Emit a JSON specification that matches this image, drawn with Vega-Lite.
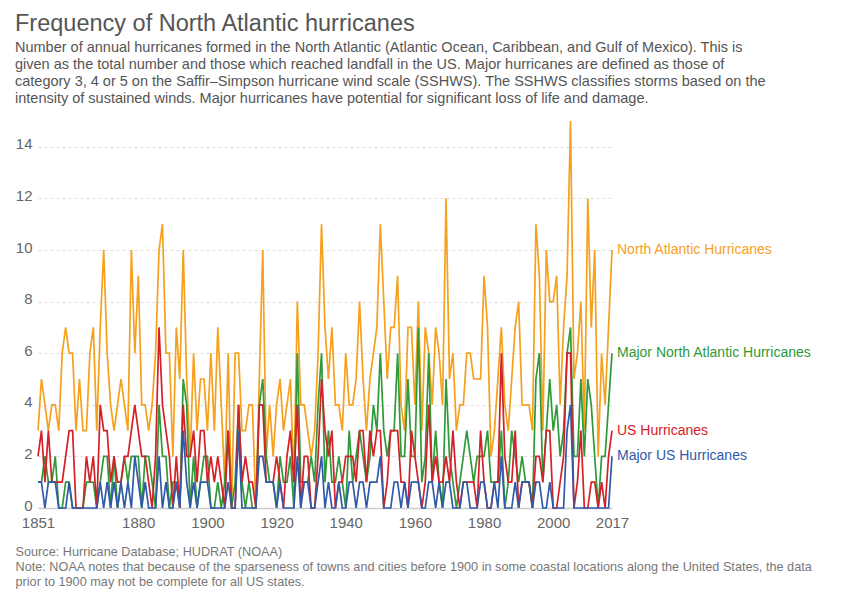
{
  "$schema": "https://vega.github.io/schema/vega-lite/v6.json",
  "width": 574,
  "height": 387,
  "autosize": "none",
  "padding": {"left": 38, "top": 121, "right": 238, "bottom": 92},
  "background": "white",
  "config": {"view": {"stroke": null}, "font": "Liberation Sans"},
  "title": {
    "text": "Frequency of North Atlantic hurricanes",
    "subtitle": [
      "Number of annual hurricanes formed in the North Atlantic (Atlantic Ocean, Caribbean, and Gulf of Mexico). This is",
      "given as the total number and those which reached landfall in the US. Major hurricanes are defined as those of",
      "category 3, 4 or 5 on the Saffir–Simpson hurricane wind scale (SSHWS). The SSHWS classifies storms based on the",
      "intensity of sustained winds. Major hurricanes have potential for significant loss of life and damage."
    ],
    "anchor": "start",
    "frame": "group",
    "dx": -23,
    "offset": 12,
    "font": "Liberation Sans",
    "fontSize": 23.5,
    "fontWeight": "normal",
    "color": "#555555",
    "subtitleFont": "Liberation Sans",
    "subtitleFontSize": 14.5,
    "subtitleColor": "#555555",
    "subtitleLineHeight": 16.9,
    "subtitlePadding": 6
  },
  "data": {"values": [
    {"year":1851,"North Atlantic Hurricanes":3,"Major North Atlantic Hurricanes":1,"US Hurricanes":2,"Major US Hurricanes":1},
    {"year":1852,"North Atlantic Hurricanes":5,"Major North Atlantic Hurricanes":1,"US Hurricanes":3,"Major US Hurricanes":1},
    {"year":1853,"North Atlantic Hurricanes":4,"Major North Atlantic Hurricanes":2,"US Hurricanes":1,"Major US Hurricanes":0},
    {"year":1854,"North Atlantic Hurricanes":3,"Major North Atlantic Hurricanes":1,"US Hurricanes":3,"Major US Hurricanes":1},
    {"year":1855,"North Atlantic Hurricanes":4,"Major North Atlantic Hurricanes":1,"US Hurricanes":1,"Major US Hurricanes":1},
    {"year":1856,"North Atlantic Hurricanes":4,"Major North Atlantic Hurricanes":2,"US Hurricanes":1,"Major US Hurricanes":1},
    {"year":1857,"North Atlantic Hurricanes":3,"Major North Atlantic Hurricanes":0,"US Hurricanes":1,"Major US Hurricanes":0},
    {"year":1858,"North Atlantic Hurricanes":6,"Major North Atlantic Hurricanes":0,"US Hurricanes":1,"Major US Hurricanes":0},
    {"year":1859,"North Atlantic Hurricanes":7,"Major North Atlantic Hurricanes":1,"US Hurricanes":2,"Major US Hurricanes":0},
    {"year":1860,"North Atlantic Hurricanes":6,"Major North Atlantic Hurricanes":1,"US Hurricanes":3,"Major US Hurricanes":1},
    {"year":1861,"North Atlantic Hurricanes":6,"Major North Atlantic Hurricanes":0,"US Hurricanes":3,"Major US Hurricanes":0},
    {"year":1862,"North Atlantic Hurricanes":3,"Major North Atlantic Hurricanes":0,"US Hurricanes":0,"Major US Hurricanes":0},
    {"year":1863,"North Atlantic Hurricanes":5,"Major North Atlantic Hurricanes":0,"US Hurricanes":0,"Major US Hurricanes":0},
    {"year":1864,"North Atlantic Hurricanes":3,"Major North Atlantic Hurricanes":0,"US Hurricanes":0,"Major US Hurricanes":0},
    {"year":1865,"North Atlantic Hurricanes":3,"Major North Atlantic Hurricanes":1,"US Hurricanes":2,"Major US Hurricanes":0},
    {"year":1866,"North Atlantic Hurricanes":6,"Major North Atlantic Hurricanes":1,"US Hurricanes":1,"Major US Hurricanes":0},
    {"year":1867,"North Atlantic Hurricanes":7,"Major North Atlantic Hurricanes":1,"US Hurricanes":2,"Major US Hurricanes":0},
    {"year":1868,"North Atlantic Hurricanes":3,"Major North Atlantic Hurricanes":0,"US Hurricanes":0,"Major US Hurricanes":0},
    {"year":1869,"North Atlantic Hurricanes":7,"Major North Atlantic Hurricanes":1,"US Hurricanes":4,"Major US Hurricanes":1},
    {"year":1870,"North Atlantic Hurricanes":10,"Major North Atlantic Hurricanes":2,"US Hurricanes":3,"Major US Hurricanes":0},
    {"year":1871,"North Atlantic Hurricanes":6,"Major North Atlantic Hurricanes":2,"US Hurricanes":3,"Major US Hurricanes":1},
    {"year":1872,"North Atlantic Hurricanes":4,"Major North Atlantic Hurricanes":0,"US Hurricanes":1,"Major US Hurricanes":0},
    {"year":1873,"North Atlantic Hurricanes":3,"Major North Atlantic Hurricanes":2,"US Hurricanes":2,"Major US Hurricanes":1},
    {"year":1874,"North Atlantic Hurricanes":4,"Major North Atlantic Hurricanes":0,"US Hurricanes":1,"Major US Hurricanes":0},
    {"year":1875,"North Atlantic Hurricanes":5,"Major North Atlantic Hurricanes":1,"US Hurricanes":1,"Major US Hurricanes":1},
    {"year":1876,"North Atlantic Hurricanes":4,"Major North Atlantic Hurricanes":2,"US Hurricanes":2,"Major US Hurricanes":0},
    {"year":1877,"North Atlantic Hurricanes":3,"Major North Atlantic Hurricanes":1,"US Hurricanes":2,"Major US Hurricanes":1},
    {"year":1878,"North Atlantic Hurricanes":10,"Major North Atlantic Hurricanes":2,"US Hurricanes":3,"Major US Hurricanes":0},
    {"year":1879,"North Atlantic Hurricanes":6,"Major North Atlantic Hurricanes":2,"US Hurricanes":4,"Major US Hurricanes":2},
    {"year":1880,"North Atlantic Hurricanes":9,"Major North Atlantic Hurricanes":2,"US Hurricanes":3,"Major US Hurricanes":1},
    {"year":1881,"North Atlantic Hurricanes":4,"Major North Atlantic Hurricanes":0,"US Hurricanes":2,"Major US Hurricanes":0},
    {"year":1882,"North Atlantic Hurricanes":4,"Major North Atlantic Hurricanes":2,"US Hurricanes":2,"Major US Hurricanes":1},
    {"year":1883,"North Atlantic Hurricanes":3,"Major North Atlantic Hurricanes":2,"US Hurricanes":1,"Major US Hurricanes":0},
    {"year":1884,"North Atlantic Hurricanes":4,"Major North Atlantic Hurricanes":1,"US Hurricanes":0,"Major US Hurricanes":0},
    {"year":1885,"North Atlantic Hurricanes":6,"Major North Atlantic Hurricanes":0,"US Hurricanes":2,"Major US Hurricanes":0},
    {"year":1886,"North Atlantic Hurricanes":10,"Major North Atlantic Hurricanes":4,"US Hurricanes":7,"Major US Hurricanes":2},
    {"year":1887,"North Atlantic Hurricanes":11,"Major North Atlantic Hurricanes":2,"US Hurricanes":4,"Major US Hurricanes":0},
    {"year":1888,"North Atlantic Hurricanes":6,"Major North Atlantic Hurricanes":2,"US Hurricanes":3,"Major US Hurricanes":1},
    {"year":1889,"North Atlantic Hurricanes":6,"Major North Atlantic Hurricanes":0,"US Hurricanes":2,"Major US Hurricanes":0},
    {"year":1890,"North Atlantic Hurricanes":2,"Major North Atlantic Hurricanes":1,"US Hurricanes":0,"Major US Hurricanes":0},
    {"year":1891,"North Atlantic Hurricanes":7,"Major North Atlantic Hurricanes":1,"US Hurricanes":2,"Major US Hurricanes":1},
    {"year":1892,"North Atlantic Hurricanes":5,"Major North Atlantic Hurricanes":0,"US Hurricanes":0,"Major US Hurricanes":0},
    {"year":1893,"North Atlantic Hurricanes":10,"Major North Atlantic Hurricanes":5,"US Hurricanes":4,"Major US Hurricanes":3},
    {"year":1894,"North Atlantic Hurricanes":5,"Major North Atlantic Hurricanes":4,"US Hurricanes":2,"Major US Hurricanes":1},
    {"year":1895,"North Atlantic Hurricanes":2,"Major North Atlantic Hurricanes":0,"US Hurricanes":2,"Major US Hurricanes":0},
    {"year":1896,"North Atlantic Hurricanes":6,"Major North Atlantic Hurricanes":2,"US Hurricanes":3,"Major US Hurricanes":1},
    {"year":1897,"North Atlantic Hurricanes":3,"Major North Atlantic Hurricanes":0,"US Hurricanes":1,"Major US Hurricanes":0},
    {"year":1898,"North Atlantic Hurricanes":5,"Major North Atlantic Hurricanes":1,"US Hurricanes":3,"Major US Hurricanes":1},
    {"year":1899,"North Atlantic Hurricanes":5,"Major North Atlantic Hurricanes":2,"US Hurricanes":3,"Major US Hurricanes":1},
    {"year":1900,"North Atlantic Hurricanes":3,"Major North Atlantic Hurricanes":2,"US Hurricanes":1,"Major US Hurricanes":1},
    {"year":1901,"North Atlantic Hurricanes":6,"Major North Atlantic Hurricanes":0,"US Hurricanes":2,"Major US Hurricanes":0},
    {"year":1902,"North Atlantic Hurricanes":3,"Major North Atlantic Hurricanes":0,"US Hurricanes":1,"Major US Hurricanes":0},
    {"year":1903,"North Atlantic Hurricanes":7,"Major North Atlantic Hurricanes":1,"US Hurricanes":2,"Major US Hurricanes":0},
    {"year":1904,"North Atlantic Hurricanes":4,"Major North Atlantic Hurricanes":0,"US Hurricanes":1,"Major US Hurricanes":0},
    {"year":1905,"North Atlantic Hurricanes":1,"Major North Atlantic Hurricanes":1,"US Hurricanes":0,"Major US Hurricanes":0},
    {"year":1906,"North Atlantic Hurricanes":6,"Major North Atlantic Hurricanes":3,"US Hurricanes":3,"Major US Hurricanes":1},
    {"year":1907,"North Atlantic Hurricanes":0,"Major North Atlantic Hurricanes":0,"US Hurricanes":0,"Major US Hurricanes":0},
    {"year":1908,"North Atlantic Hurricanes":6,"Major North Atlantic Hurricanes":1,"US Hurricanes":0,"Major US Hurricanes":0},
    {"year":1909,"North Atlantic Hurricanes":6,"Major North Atlantic Hurricanes":4,"US Hurricanes":4,"Major US Hurricanes":3},
    {"year":1910,"North Atlantic Hurricanes":3,"Major North Atlantic Hurricanes":1,"US Hurricanes":1,"Major US Hurricanes":0},
    {"year":1911,"North Atlantic Hurricanes":3,"Major North Atlantic Hurricanes":0,"US Hurricanes":2,"Major US Hurricanes":0},
    {"year":1912,"North Atlantic Hurricanes":4,"Major North Atlantic Hurricanes":1,"US Hurricanes":1,"Major US Hurricanes":0},
    {"year":1913,"North Atlantic Hurricanes":4,"Major North Atlantic Hurricanes":0,"US Hurricanes":1,"Major US Hurricanes":0},
    {"year":1914,"North Atlantic Hurricanes":0,"Major North Atlantic Hurricanes":0,"US Hurricanes":0,"Major US Hurricanes":0},
    {"year":1915,"North Atlantic Hurricanes":5,"Major North Atlantic Hurricanes":4,"US Hurricanes":4,"Major US Hurricanes":2},
    {"year":1916,"North Atlantic Hurricanes":10,"Major North Atlantic Hurricanes":5,"US Hurricanes":4,"Major US Hurricanes":2},
    {"year":1917,"North Atlantic Hurricanes":2,"Major North Atlantic Hurricanes":2,"US Hurricanes":1,"Major US Hurricanes":1},
    {"year":1918,"North Atlantic Hurricanes":4,"Major North Atlantic Hurricanes":1,"US Hurricanes":1,"Major US Hurricanes":1},
    {"year":1919,"North Atlantic Hurricanes":2,"Major North Atlantic Hurricanes":1,"US Hurricanes":1,"Major US Hurricanes":1},
    {"year":1920,"North Atlantic Hurricanes":4,"Major North Atlantic Hurricanes":0,"US Hurricanes":2,"Major US Hurricanes":0},
    {"year":1921,"North Atlantic Hurricanes":5,"Major North Atlantic Hurricanes":2,"US Hurricanes":1,"Major US Hurricanes":1},
    {"year":1922,"North Atlantic Hurricanes":3,"Major North Atlantic Hurricanes":1,"US Hurricanes":0,"Major US Hurricanes":0},
    {"year":1923,"North Atlantic Hurricanes":4,"Major North Atlantic Hurricanes":1,"US Hurricanes":2,"Major US Hurricanes":0},
    {"year":1924,"North Atlantic Hurricanes":5,"Major North Atlantic Hurricanes":2,"US Hurricanes":3,"Major US Hurricanes":0},
    {"year":1925,"North Atlantic Hurricanes":1,"Major North Atlantic Hurricanes":0,"US Hurricanes":1,"Major US Hurricanes":0},
    {"year":1926,"North Atlantic Hurricanes":8,"Major North Atlantic Hurricanes":6,"US Hurricanes":4,"Major US Hurricanes":2},
    {"year":1927,"North Atlantic Hurricanes":4,"Major North Atlantic Hurricanes":1,"US Hurricanes":0,"Major US Hurricanes":0},
    {"year":1928,"North Atlantic Hurricanes":4,"Major North Atlantic Hurricanes":1,"US Hurricanes":2,"Major US Hurricanes":1},
    {"year":1929,"North Atlantic Hurricanes":3,"Major North Atlantic Hurricanes":1,"US Hurricanes":2,"Major US Hurricanes":1},
    {"year":1930,"North Atlantic Hurricanes":2,"Major North Atlantic Hurricanes":2,"US Hurricanes":0,"Major US Hurricanes":0},
    {"year":1931,"North Atlantic Hurricanes":3,"Major North Atlantic Hurricanes":1,"US Hurricanes":0,"Major US Hurricanes":0},
    {"year":1932,"North Atlantic Hurricanes":6,"Major North Atlantic Hurricanes":4,"US Hurricanes":2,"Major US Hurricanes":1},
    {"year":1933,"North Atlantic Hurricanes":11,"Major North Atlantic Hurricanes":6,"US Hurricanes":5,"Major US Hurricanes":2},
    {"year":1934,"North Atlantic Hurricanes":7,"Major North Atlantic Hurricanes":1,"US Hurricanes":3,"Major US Hurricanes":0},
    {"year":1935,"North Atlantic Hurricanes":5,"Major North Atlantic Hurricanes":3,"US Hurricanes":2,"Major US Hurricanes":1},
    {"year":1936,"North Atlantic Hurricanes":7,"Major North Atlantic Hurricanes":1,"US Hurricanes":3,"Major US Hurricanes":0},
    {"year":1937,"North Atlantic Hurricanes":4,"Major North Atlantic Hurricanes":1,"US Hurricanes":0,"Major US Hurricanes":0},
    {"year":1938,"North Atlantic Hurricanes":4,"Major North Atlantic Hurricanes":2,"US Hurricanes":1,"Major US Hurricanes":1},
    {"year":1939,"North Atlantic Hurricanes":3,"Major North Atlantic Hurricanes":1,"US Hurricanes":1,"Major US Hurricanes":0},
    {"year":1940,"North Atlantic Hurricanes":6,"Major North Atlantic Hurricanes":0,"US Hurricanes":2,"Major US Hurricanes":0},
    {"year":1941,"North Atlantic Hurricanes":4,"Major North Atlantic Hurricanes":3,"US Hurricanes":2,"Major US Hurricanes":1},
    {"year":1942,"North Atlantic Hurricanes":4,"Major North Atlantic Hurricanes":1,"US Hurricanes":2,"Major US Hurricanes":1},
    {"year":1943,"North Atlantic Hurricanes":5,"Major North Atlantic Hurricanes":2,"US Hurricanes":1,"Major US Hurricanes":0},
    {"year":1944,"North Atlantic Hurricanes":8,"Major North Atlantic Hurricanes":3,"US Hurricanes":3,"Major US Hurricanes":1},
    {"year":1945,"North Atlantic Hurricanes":5,"Major North Atlantic Hurricanes":2,"US Hurricanes":3,"Major US Hurricanes":1},
    {"year":1946,"North Atlantic Hurricanes":3,"Major North Atlantic Hurricanes":1,"US Hurricanes":1,"Major US Hurricanes":0},
    {"year":1947,"North Atlantic Hurricanes":5,"Major North Atlantic Hurricanes":2,"US Hurricanes":3,"Major US Hurricanes":1},
    {"year":1948,"North Atlantic Hurricanes":6,"Major North Atlantic Hurricanes":4,"US Hurricanes":2,"Major US Hurricanes":1},
    {"year":1949,"North Atlantic Hurricanes":7,"Major North Atlantic Hurricanes":3,"US Hurricanes":3,"Major US Hurricanes":1},
    {"year":1950,"North Atlantic Hurricanes":11,"Major North Atlantic Hurricanes":6,"US Hurricanes":3,"Major US Hurricanes":2},
    {"year":1951,"North Atlantic Hurricanes":8,"Major North Atlantic Hurricanes":3,"US Hurricanes":0,"Major US Hurricanes":0},
    {"year":1952,"North Atlantic Hurricanes":5,"Major North Atlantic Hurricanes":2,"US Hurricanes":1,"Major US Hurricanes":0},
    {"year":1953,"North Atlantic Hurricanes":7,"Major North Atlantic Hurricanes":3,"US Hurricanes":3,"Major US Hurricanes":0},
    {"year":1954,"North Atlantic Hurricanes":7,"Major North Atlantic Hurricanes":3,"US Hurricanes":3,"Major US Hurricanes":1},
    {"year":1955,"North Atlantic Hurricanes":9,"Major North Atlantic Hurricanes":6,"US Hurricanes":3,"Major US Hurricanes":1},
    {"year":1956,"North Atlantic Hurricanes":4,"Major North Atlantic Hurricanes":2,"US Hurricanes":1,"Major US Hurricanes":0},
    {"year":1957,"North Atlantic Hurricanes":3,"Major North Atlantic Hurricanes":2,"US Hurricanes":1,"Major US Hurricanes":1},
    {"year":1958,"North Atlantic Hurricanes":7,"Major North Atlantic Hurricanes":5,"US Hurricanes":0,"Major US Hurricanes":0},
    {"year":1959,"North Atlantic Hurricanes":7,"Major North Atlantic Hurricanes":2,"US Hurricanes":3,"Major US Hurricanes":1},
    {"year":1960,"North Atlantic Hurricanes":4,"Major North Atlantic Hurricanes":2,"US Hurricanes":2,"Major US Hurricanes":1},
    {"year":1961,"North Atlantic Hurricanes":8,"Major North Atlantic Hurricanes":7,"US Hurricanes":1,"Major US Hurricanes":1},
    {"year":1962,"North Atlantic Hurricanes":3,"Major North Atlantic Hurricanes":1,"US Hurricanes":0,"Major US Hurricanes":0},
    {"year":1963,"North Atlantic Hurricanes":7,"Major North Atlantic Hurricanes":2,"US Hurricanes":1,"Major US Hurricanes":0},
    {"year":1964,"North Atlantic Hurricanes":6,"Major North Atlantic Hurricanes":6,"US Hurricanes":4,"Major US Hurricanes":1},
    {"year":1965,"North Atlantic Hurricanes":4,"Major North Atlantic Hurricanes":1,"US Hurricanes":1,"Major US Hurricanes":1},
    {"year":1966,"North Atlantic Hurricanes":7,"Major North Atlantic Hurricanes":3,"US Hurricanes":2,"Major US Hurricanes":0},
    {"year":1967,"North Atlantic Hurricanes":6,"Major North Atlantic Hurricanes":1,"US Hurricanes":1,"Major US Hurricanes":1},
    {"year":1968,"North Atlantic Hurricanes":4,"Major North Atlantic Hurricanes":0,"US Hurricanes":1,"Major US Hurricanes":0},
    {"year":1969,"North Atlantic Hurricanes":12,"Major North Atlantic Hurricanes":5,"US Hurricanes":2,"Major US Hurricanes":1},
    {"year":1970,"North Atlantic Hurricanes":5,"Major North Atlantic Hurricanes":2,"US Hurricanes":1,"Major US Hurricanes":1},
    {"year":1971,"North Atlantic Hurricanes":6,"Major North Atlantic Hurricanes":1,"US Hurricanes":3,"Major US Hurricanes":0},
    {"year":1972,"North Atlantic Hurricanes":3,"Major North Atlantic Hurricanes":0,"US Hurricanes":1,"Major US Hurricanes":0},
    {"year":1973,"North Atlantic Hurricanes":4,"Major North Atlantic Hurricanes":1,"US Hurricanes":0,"Major US Hurricanes":0},
    {"year":1974,"North Atlantic Hurricanes":4,"Major North Atlantic Hurricanes":2,"US Hurricanes":1,"Major US Hurricanes":1},
    {"year":1975,"North Atlantic Hurricanes":6,"Major North Atlantic Hurricanes":3,"US Hurricanes":1,"Major US Hurricanes":1},
    {"year":1976,"North Atlantic Hurricanes":6,"Major North Atlantic Hurricanes":2,"US Hurricanes":1,"Major US Hurricanes":0},
    {"year":1977,"North Atlantic Hurricanes":5,"Major North Atlantic Hurricanes":1,"US Hurricanes":1,"Major US Hurricanes":0},
    {"year":1978,"North Atlantic Hurricanes":5,"Major North Atlantic Hurricanes":2,"US Hurricanes":0,"Major US Hurricanes":0},
    {"year":1979,"North Atlantic Hurricanes":5,"Major North Atlantic Hurricanes":2,"US Hurricanes":3,"Major US Hurricanes":1},
    {"year":1980,"North Atlantic Hurricanes":9,"Major North Atlantic Hurricanes":2,"US Hurricanes":1,"Major US Hurricanes":1},
    {"year":1981,"North Atlantic Hurricanes":7,"Major North Atlantic Hurricanes":3,"US Hurricanes":0,"Major US Hurricanes":0},
    {"year":1982,"North Atlantic Hurricanes":2,"Major North Atlantic Hurricanes":1,"US Hurricanes":0,"Major US Hurricanes":0},
    {"year":1983,"North Atlantic Hurricanes":3,"Major North Atlantic Hurricanes":1,"US Hurricanes":1,"Major US Hurricanes":1},
    {"year":1984,"North Atlantic Hurricanes":5,"Major North Atlantic Hurricanes":1,"US Hurricanes":1,"Major US Hurricanes":0},
    {"year":1985,"North Atlantic Hurricanes":7,"Major North Atlantic Hurricanes":3,"US Hurricanes":6,"Major US Hurricanes":2},
    {"year":1986,"North Atlantic Hurricanes":4,"Major North Atlantic Hurricanes":0,"US Hurricanes":2,"Major US Hurricanes":0},
    {"year":1987,"North Atlantic Hurricanes":3,"Major North Atlantic Hurricanes":1,"US Hurricanes":1,"Major US Hurricanes":0},
    {"year":1988,"North Atlantic Hurricanes":5,"Major North Atlantic Hurricanes":3,"US Hurricanes":1,"Major US Hurricanes":0},
    {"year":1989,"North Atlantic Hurricanes":7,"Major North Atlantic Hurricanes":2,"US Hurricanes":3,"Major US Hurricanes":1},
    {"year":1990,"North Atlantic Hurricanes":8,"Major North Atlantic Hurricanes":1,"US Hurricanes":0,"Major US Hurricanes":0},
    {"year":1991,"North Atlantic Hurricanes":4,"Major North Atlantic Hurricanes":2,"US Hurricanes":1,"Major US Hurricanes":1},
    {"year":1992,"North Atlantic Hurricanes":4,"Major North Atlantic Hurricanes":1,"US Hurricanes":1,"Major US Hurricanes":1},
    {"year":1993,"North Atlantic Hurricanes":4,"Major North Atlantic Hurricanes":1,"US Hurricanes":1,"Major US Hurricanes":1},
    {"year":1994,"North Atlantic Hurricanes":3,"Major North Atlantic Hurricanes":0,"US Hurricanes":0,"Major US Hurricanes":0},
    {"year":1995,"North Atlantic Hurricanes":11,"Major North Atlantic Hurricanes":5,"US Hurricanes":2,"Major US Hurricanes":1},
    {"year":1996,"North Atlantic Hurricanes":9,"Major North Atlantic Hurricanes":6,"US Hurricanes":2,"Major US Hurricanes":1},
    {"year":1997,"North Atlantic Hurricanes":3,"Major North Atlantic Hurricanes":1,"US Hurricanes":1,"Major US Hurricanes":0},
    {"year":1998,"North Atlantic Hurricanes":10,"Major North Atlantic Hurricanes":3,"US Hurricanes":3,"Major US Hurricanes":0},
    {"year":1999,"North Atlantic Hurricanes":8,"Major North Atlantic Hurricanes":5,"US Hurricanes":3,"Major US Hurricanes":1},
    {"year":2000,"North Atlantic Hurricanes":8,"Major North Atlantic Hurricanes":3,"US Hurricanes":0,"Major US Hurricanes":0},
    {"year":2001,"North Atlantic Hurricanes":9,"Major North Atlantic Hurricanes":4,"US Hurricanes":0,"Major US Hurricanes":0},
    {"year":2002,"North Atlantic Hurricanes":4,"Major North Atlantic Hurricanes":2,"US Hurricanes":1,"Major US Hurricanes":0},
    {"year":2003,"North Atlantic Hurricanes":7,"Major North Atlantic Hurricanes":3,"US Hurricanes":2,"Major US Hurricanes":0},
    {"year":2004,"North Atlantic Hurricanes":9,"Major North Atlantic Hurricanes":6,"US Hurricanes":6,"Major US Hurricanes":3},
    {"year":2005,"North Atlantic Hurricanes":15,"Major North Atlantic Hurricanes":7,"US Hurricanes":6,"Major US Hurricanes":4},
    {"year":2006,"North Atlantic Hurricanes":5,"Major North Atlantic Hurricanes":2,"US Hurricanes":0,"Major US Hurricanes":0},
    {"year":2007,"North Atlantic Hurricanes":6,"Major North Atlantic Hurricanes":2,"US Hurricanes":1,"Major US Hurricanes":0},
    {"year":2008,"North Atlantic Hurricanes":8,"Major North Atlantic Hurricanes":5,"US Hurricanes":3,"Major US Hurricanes":0},
    {"year":2009,"North Atlantic Hurricanes":3,"Major North Atlantic Hurricanes":2,"US Hurricanes":0,"Major US Hurricanes":0},
    {"year":2010,"North Atlantic Hurricanes":12,"Major North Atlantic Hurricanes":5,"US Hurricanes":0,"Major US Hurricanes":0},
    {"year":2011,"North Atlantic Hurricanes":7,"Major North Atlantic Hurricanes":4,"US Hurricanes":1,"Major US Hurricanes":0},
    {"year":2012,"North Atlantic Hurricanes":10,"Major North Atlantic Hurricanes":2,"US Hurricanes":1,"Major US Hurricanes":0},
    {"year":2013,"North Atlantic Hurricanes":2,"Major North Atlantic Hurricanes":0,"US Hurricanes":0,"Major US Hurricanes":0},
    {"year":2014,"North Atlantic Hurricanes":6,"Major North Atlantic Hurricanes":2,"US Hurricanes":1,"Major US Hurricanes":0},
    {"year":2015,"North Atlantic Hurricanes":4,"Major North Atlantic Hurricanes":2,"US Hurricanes":0,"Major US Hurricanes":0},
    {"year":2016,"North Atlantic Hurricanes":7,"Major North Atlantic Hurricanes":4,"US Hurricanes":2,"Major US Hurricanes":0},
    {"year":2017,"North Atlantic Hurricanes":10,"Major North Atlantic Hurricanes":6,"US Hurricanes":3,"Major US Hurricanes":2}
  ]},
  "transform": [
    {"fold": ["North Atlantic Hurricanes", "Major North Atlantic Hurricanes", "US Hurricanes", "Major US Hurricanes"], "as": ["series", "value"]}
  ],
  "encoding": {
    "x": {
      "field": "year", "type": "quantitative",
      "scale": {"domain": [1851, 2017], "nice": false, "zero": false},
      "axis": {
        "values": [1851, 1880, 1900, 1920, 1940, 1960, 1980, 2000, 2017],
        "format": "d",
        "grid": false,
        "ticks": false,
        "domain": true,
        "domainColor": "#cccccc",
        "domainWidth": 1.5,
        "labelFlush": false,
        "labelOverlap": false,
        "labelFontSize": 15,
        "labelColor": "#666666",
        "labelPadding": 7,
        "labelFont": "Liberation Sans",
        "title": [
          "Source: Hurricane Database; HUDRAT (NOAA)",
          "Note: NOAA notes that because of the sparseness of towns and cities before 1900 in some coastal locations along the United States, the data",
          "prior to 1900 may not be complete for all US states."
        ],
        "titleFont": "Liberation Sans",
        "titleFontSize": 12.7,
        "titleFontWeight": "normal",
        "titleColor": "#777777",
        "titleAnchor": "start",
        "titleAlign": "left",
        "titleBaseline": "top",
        "titleX": -23,
        "titleY": 37,
        "titleLineHeight": 15.2
      }
    },
    "y": {
      "field": "value", "type": "quantitative",
      "scale": {"domain": [0, 15], "nice": false},
      "axis": {
        "values": [0, 2, 4, 6, 8, 10, 12, 14],
        "title": null,
        "domain": false,
        "ticks": false,
        "grid": true,
        "gridDash": [3, 3],
        "gridColor": "#dddddd",
        "labelFontSize": 15,
        "labelColor": "#666666",
        "labelPadding": 6,
        "labelOffset": -3,
        "labelFont": "Liberation Sans"
      }
    },
    "color": {
      "field": "series", "type": "nominal",
      "scale": {
        "domain": ["North Atlantic Hurricanes", "Major North Atlantic Hurricanes", "US Hurricanes", "Major US Hurricanes"],
        "range": ["#f6a01d", "#2e9a38", "#d42027", "#3059a8"]
      },
      "legend": null
    }
  },
  "layer": [
    {"mark": {"type": "line", "strokeWidth": 1.7, "interpolate": "linear"}},
    {
      "transform": [{"filter": "datum.year == 2017"}],
      "mark": {"type": "text", "align": "left", "baseline": "middle", "dx": 5, "fontSize": 14, "font": "Liberation Sans"},
      "encoding": {"text": {"field": "series", "type": "nominal"}}
    }
  ]
}
